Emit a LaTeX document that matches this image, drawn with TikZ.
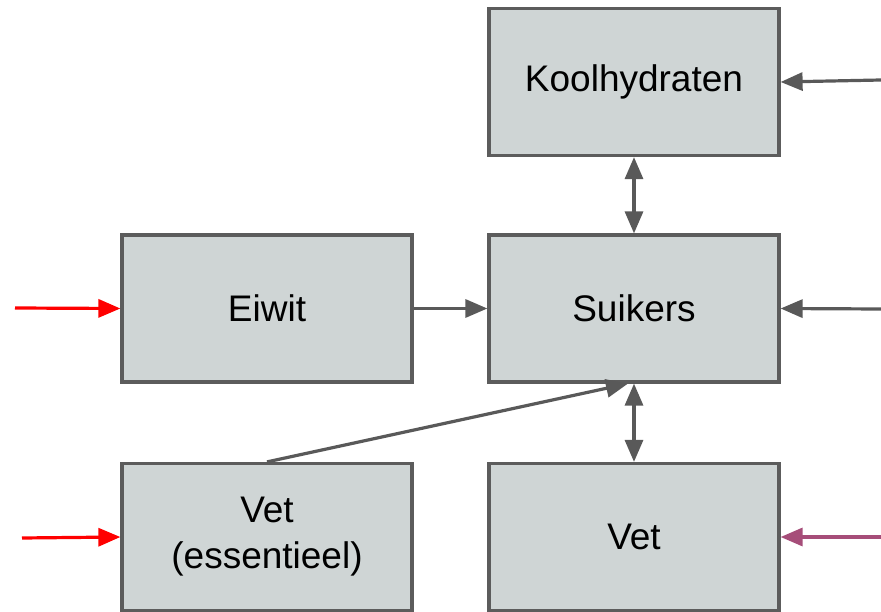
\documentclass[tikz,border=0pt]{standalone}
\usepackage{fontspec}
\setmainfont{Liberation Sans}
\usetikzlibrary{arrows.meta,calc}
\definecolor{boxfill}{RGB}{207,213,213}
\definecolor{boxline}{RGB}{92,92,92}
\definecolor{arrgray}{RGB}{89,89,89}
\definecolor{vetpurple}{RGB}{166,77,121}
\definecolor{inred}{RGB}{255,0,0}
\begin{document}
\begin{tikzpicture}[x=1pt,y=-1pt,
  blok/.style={draw=boxline, fill=boxfill, line width=3.2pt, minimum width=290pt, minimum height=147pt, inner sep=0pt, font=\fontsize{37}{46}\selectfont, align=center},
  pijl/.style={draw=arrgray, line width=3.2pt, -{Triangle[length=22pt,width=18pt]}},
  dubbel/.style={draw=arrgray, line width=3.2pt, {Triangle[length=22pt,width=18pt]}-{Triangle[length=22pt,width=18pt]}},
  rood/.style={pijl, draw=inred},
  paars/.style={pijl, draw=vetpurple}]
\useasboundingbox (0,0) rectangle (881,612);
\node[blok] (kool) at (634,82) {Koolhydraten};
\node[blok] (suik) at (634,308.5) {Suikers};
\node[blok] (eiwit) at (267,308.5) {Eiwit};
\node[blok] (vetess) at (267,537) {Vet\\(essentieel)};
\node[blok] (vet) at (634,537) {Vet};
\coordinate (kin) at (881,80);
\coordinate (sin) at (881,309);
\coordinate (vin) at (881,537);
\coordinate (ein) at (15,308);
\coordinate (vein) at (22,538);
\draw[pijl] (kin) -- (kool.east);
\draw[pijl] (sin) -- (suik.east);
\draw[paars] (vin) -- (vet.east);
\draw[rood] (ein) -- (eiwit.west);
\draw[rood] (vein) -- (vetess.west);
\draw[dubbel] (kool.south) -- (suik.north);
\draw[dubbel] (suik.south) -- (vet.north);
\draw[pijl] (eiwit.east) -- (suik.west);
\draw[pijl] (vetess.north) -- ($(suik.south)+(-6,0)$);
\end{tikzpicture}
\end{document}
